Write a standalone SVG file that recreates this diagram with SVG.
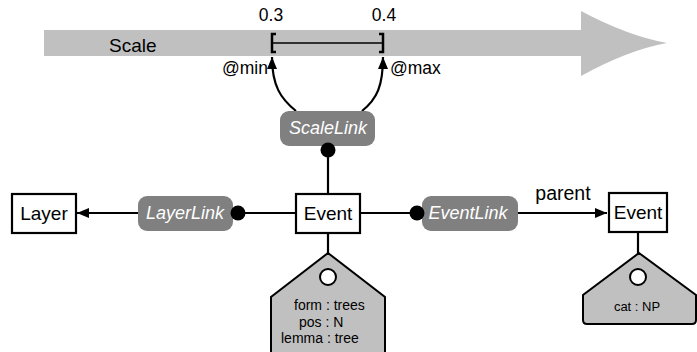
<svg xmlns="http://www.w3.org/2000/svg" width="697" height="352" viewBox="0 0 697 352">
<style>
text{font-family:"Liberation Sans",Arial,Helvetica,sans-serif;fill:#000}
.box{fill:#fff;stroke:#000;stroke-width:2.2}
.lbl{font-size:19px;text-anchor:middle}
.small{font-size:17.5px}
.link rect{fill:#808080;stroke:none}
.link text{fill:#fff;font-style:italic;font-size:18px;text-anchor:middle}
.tag{fill:#c0c0c0;stroke:#000;stroke-width:2}
.hole{fill:#fff;stroke:#000;stroke-width:2}
.conn{fill:none;stroke:#000;stroke-width:2.2}
.dot{fill:#000}
.tagtxt{font-size:14px}
</style>
<defs>
<marker id="ah" markerUnits="userSpaceOnUse" markerWidth="12" markerHeight="10" refX="12" refY="5" orient="auto">
<path d="M0,0 L12,5 L0,10 Z" fill="#000"/>
</marker>
</defs>

<g id="scale">
<rect x="44" y="30" width="538" height="26" fill="#c0c0c0"/>
<path d="M581,11 Q628,36 667,43 Q628,50 581,76 Z" fill="#c0c0c0"/>
<text x="109" y="52" style="font-size:19px">Scale</text>
<text x="271" y="21" class="small" text-anchor="middle">0.3</text>
<text x="384" y="21" class="small" text-anchor="middle">0.4</text>
<path d="M276,34 L272,34 L272,52 L276,52 M379,34 L383,34 L383,52 L379,52" fill="none" stroke="#000" stroke-width="2.5"/>
<line x1="272" y1="43" x2="383" y2="43" stroke="#000" stroke-width="1.6"/>
<text x="268" y="74" class="small" text-anchor="end">@min</text>
<text x="390" y="74" class="small">@max</text>
</g>

<g id="connectors">
<path class="conn" d="M296,111 C281,99 272,86 272,57" marker-end="url(#ah)"/>
<path class="conn" d="M362,111 C377,99 383,86 383,57" marker-end="url(#ah)"/>
<line class="conn" x1="328" y1="150" x2="328" y2="194"/>
<line class="conn" x1="238" y1="213" x2="296" y2="213"/>
<line class="conn" x1="138" y1="213" x2="77" y2="213" marker-end="url(#ah)"/>
<line class="conn" x1="360" y1="213" x2="417" y2="213"/>
<line class="conn" x1="518" y1="213" x2="607" y2="213" marker-end="url(#ah)"/>
<line class="conn" x1="328" y1="233" x2="328" y2="269"/>
<line class="conn" x1="638" y1="232" x2="638" y2="269"/>
<text x="563" y="200" style="font-size:19.5px" text-anchor="middle">parent</text>
</g>

<g id="scalelink" class="link">
<rect x="280" y="111" width="95" height="35" rx="9"/>
<text x="328" y="134">ScaleLink</text>
<circle class="dot" cx="328" cy="150" r="7.5"/>
</g>

<g id="layerlink" class="link">
<rect x="138" y="196" width="95" height="35" rx="9"/>
<text x="185" y="219">LayerLink</text>
<circle class="dot" cx="238" cy="213" r="7.5"/>
</g>

<g id="eventlink" class="link">
<rect x="422" y="196" width="96" height="35" rx="9"/>
<text x="468" y="219">EventLink</text>
<circle class="dot" cx="417" cy="213" r="7.5"/>
</g>

<g id="layer">
<rect class="box" x="12" y="194" width="64" height="39"/>
<text class="lbl" x="44" y="220">Layer</text>
</g>

<g id="event1">
<rect class="box" x="296" y="194" width="64" height="39"/>
<text class="lbl" x="328" y="220">Event</text>
</g>

<g id="event2">
<rect class="box" x="609" y="193" width="58" height="39"/>
<text class="lbl" x="638" y="219">Event</text>
</g>

<g id="tag1">
<path class="tag" d="M328,253 L385,297 L385,362 L271,362 L271,297 Z"/>
<circle class="hole" cx="328" cy="277" r="8"/>
<text class="tagtxt" x="294" y="310">form : trees</text>
<text class="tagtxt" x="299" y="327">pos : N</text>
<text class="tagtxt" x="281" y="343">lemma : tree</text>
</g>

<g id="tag2">
<path class="tag" d="M639,253 L696,295 L696,320 Q696,324 692,324 L587,324 Q583,324 583,320 L583,295 Z"/>
<circle class="hole" cx="638" cy="277" r="8"/>
<text x="637" y="311" style="font-size:13px" text-anchor="middle">cat : NP</text>
</g>
</svg>
